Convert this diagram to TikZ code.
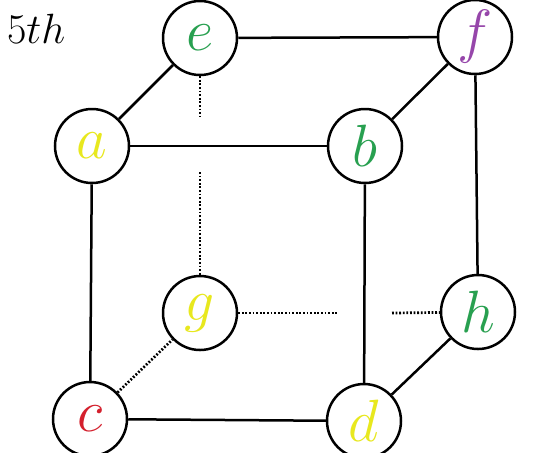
\documentclass[tikz,border=0pt]{standalone}
\usepackage{amsmath,amssymb}
\usepackage{graphicx}
\usepackage{tikz}
\usepackage{xcolor}
\usetikzlibrary{calc}

\definecolor{vgreen}{RGB}{40,160,80}
\definecolor{vyellow}{RGB}{232,232,30}
\definecolor{vpurple}{RGB}{150,70,170}
\definecolor{vred}{RGB}{212,32,45}
\newcommand{\vlabel}[2]{\scalebox{1.2}{$\color{#1}#2$}}

\begin{document}
\begin{tikzpicture}[x=0.5pt, y=-0.5pt,
  vertex/.style={circle, draw, line width=1.25pt, fill=white, minimum size=37pt, inner sep=0pt, font=\Huge},
  edge/.style={line width=1.25pt},
  hidden/.style={line width=1.35pt, dash pattern=on 0.9pt off 0.9pt}]
\useasboundingbox (0,0) rectangle (540,452);
\node[anchor=base west, font=\huge] (title) at (0,43) {\scalebox{1.02}{$5th$}};
% front and back faces
\node[vertex] (e) at (200,38) {\vlabel{vgreen}{e}};
\node[vertex] (f) at (475,37) {\vlabel{vpurple}{f}};
\node[vertex] (a) at (92,146) {\vlabel{vyellow}{a}};
\node[vertex] (b) at (365,146) {\vlabel{vgreen}{b}};
\node[vertex] (g) at (200,313) {\vlabel{vyellow}{g}};
\node[vertex] (h) at (478,312) {\vlabel{vgreen}{h}};
\node[vertex] (c) at (90,419) {\vlabel{vred}{c}};
\node[vertex] (d) at (364,421) {\vlabel{vyellow}{d}};
% gaps in the hidden edges
\coordinate (egtop) at ($(e |- a)+(0,-29)$);
\coordinate (egbot) at ($(e |- a)+(0,26)$);
\coordinate (ghleft) at ($(b |- g)+(-27,0)$);
\coordinate (ghright) at ($(b |- g)+(27,0)$);
\draw[edge] (e) -- (f);
\draw[edge] (e) -- (a);
\draw[edge] (f) -- (b);
\draw[edge] (a) -- (b);
\draw[edge] (f) -- (h);
\draw[edge] (b) -- (d);
\draw[edge] (a) -- (c);
\draw[edge] (c) -- (d);
\draw[edge] (d) -- (h);
\draw[hidden] (e) -- (egtop);
\draw[hidden] (egbot) -- (g);
\draw[hidden] (g) -- (ghleft);
\draw[hidden] (ghright) -- (h);
\draw[hidden] (c) -- (g);
\end{tikzpicture}
\end{document}
